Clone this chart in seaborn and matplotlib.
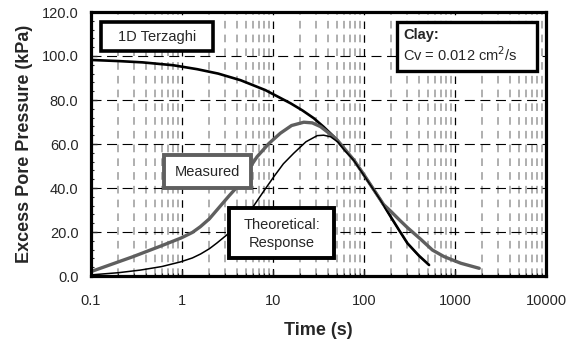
import matplotlib
matplotlib.use("Agg")
import matplotlib.pyplot as plt
import seaborn as sns
import pandas as pd
import numpy as np
from matplotlib.patches import Rectangle
from matplotlib.ticker import LogLocator, MultipleLocator, NullFormatter

# Data
t_terz = [0.1, 0.2, 0.37, 0.8, 1.47, 2.5, 4.4, 8.24, 15.6, 21, 28.1, 36, 46.7, 60, 77.4, 100, 128.5, 152, 196, 245, 300, 400, 519]
p_terz = [98.2, 97.7, 97.1, 95.8, 94.0, 92.0, 89.0, 84.5, 78.5, 75.3, 71.7, 67.8, 63.3, 57.8, 52.7, 45.8, 39.1, 34.5, 27.0, 20.6, 14.9, 9.3, 5.0]

t_theo = [0.1, 0.2, 0.35, 0.6, 0.96, 1.3, 1.6, 2.0, 2.42, 3.4, 4.5, 5.89, 7.8, 10.2, 13, 16.9, 23, 30.6, 36, 42.9, 52, 60, 77.4, 100, 128.5, 152, 196, 245, 300, 400, 519]
p_theo = [0.5, 1.5, 2.7, 4.3, 6.4, 8.2, 10.0, 12.4, 15.0, 20.0, 25.5, 30.8, 38.2, 45.1, 51.0, 55.8, 61.0, 63.8, 64.0, 63.3, 60.8, 57.6, 52.5, 45.7, 39.0, 34.4, 26.9, 20.5, 14.8, 9.2, 5.0]

t_meas = [0.1, 0.29, 0.6, 0.98, 1.3, 1.59, 2.0, 2.42, 3.3, 4.37, 5.4, 6.68, 9.0, 12.05, 16, 21.8, 27, 33.3, 41, 50.8, 62, 77.4, 100, 120, 164, 196, 245, 300, 420, 565, 759, 1159, 1846]
p_meas = [2.0, 8.8, 13.8, 17.3, 19.8, 22.4, 26.0, 30.0, 36.5, 42.1, 48.5, 54.2, 60.2, 64.9, 68.4, 69.9, 69.6, 67.9, 65.0, 61.8, 57.5, 52.7, 46.0, 41.0, 32.5, 29.5, 25.5, 22.0, 16.7, 11.8, 8.8, 5.8, 3.5]

x_ticks = [0.1, 1, 10, 100, 1000, 10000]
x_labels = ["0.1", "1", "10", "100", "1000", "10000"]
y_ticks = [0, 20, 40, 60, 80, 100, 120]

sns.set_style("white")
plt.rcParams['font.family'] = ['Liberation Sans', 'DejaVu Sans']

W, H = 572, 343
fig = plt.figure(figsize=(W / 100, H / 100), dpi=100)
ax = fig.add_axes([91 / W, 1 - 276 / H, (546 - 91) / W, (276 - 12) / H])

ax.set_xscale("log")
ax.set_xlim(0.1, 10000)
ax.set_ylim(0, 120)

ax.xaxis.set_minor_locator(LogLocator(base=10, subs=np.arange(2, 10), numticks=20))
ax.xaxis.set_minor_formatter(NullFormatter())
ax.grid(True, which="minor", axis="x", color="#9a9a9a", linestyle=(0, (5, 4)), linewidth=1.1)
ax.grid(True, which="major", axis="x", color="black", linestyle=(0, (6, 5)), linewidth=0.9)
ax.grid(True, which="major", axis="y", color="black", linestyle=(0, (9, 5)), linewidth=0.8)
ax.yaxis.set_minor_locator(MultipleLocator(4))

df_terz = pd.DataFrame({"t": t_terz, "p": p_terz})
df_theo = pd.DataFrame({"t": t_theo, "p": p_theo})
df_meas = pd.DataFrame({"t": t_meas, "p": p_meas})

sns.lineplot(data=df_terz, x="t", y="p", ax=ax, color="black", linewidth=1.9, sort=False, estimator=None)
sns.lineplot(data=df_meas, x="t", y="p", ax=ax, color="#5f5f5f", linewidth=2.4, sort=False, estimator=None)
sns.lineplot(data=df_theo, x="t", y="p", ax=ax, color="black", linewidth=1.1, sort=False, estimator=None)

ax.set_xticks(x_ticks)
ax.set_xticklabels(x_labels)
ax.set_yticks(y_ticks)
ax.set_yticklabels([f"{v:.1f}" for v in y_ticks])
ax.tick_params(axis="both", which="major", direction="in", length=4, width=1, labelsize=10.5)
ax.tick_params(axis="x", which="major", pad=13)
ax.tick_params(axis="y", which="major", pad=9)
ax.tick_params(axis="both", which="minor", direction="in", length=2.5, width=0.8)
ax.tick_params(axis="x", which="both", bottom=True)
ax.tick_params(axis="y", which="both", left=True)

for s in ax.spines.values():
    s.set_linewidth(2.3)
    s.set_color("black")

ax.set_xlabel("Time (s)", fontsize=13, fontweight="bold", labelpad=10)
ax.set_ylabel("Excess Pore Pressure (kPa)", fontsize=13, fontweight="bold", labelpad=6)

def box(x0, y0, x1, y1, color="black", lw=2.6):
    r = Rectangle((x0 / W, 1 - y1 / H), (x1 - x0) / W, (y1 - y0) / H,
                  transform=fig.transFigure, facecolor="white", edgecolor=color,
                  linewidth=lw, zorder=10)
    fig.patches.append(r)

def txt(x, y, s, **kw):
    fig.text(x / W, 1 - y / H, s, zorder=11, fontsize=10.5, **kw)

box(101, 22, 213, 51)
txt(157, 37, "1D Terzaghi", ha="center", va="center")

box(397, 22, 537, 71, lw=2.4)
txt(403, 35, "Clay:", ha="left", va="center", fontweight="bold")
txt(403, 55, "Cv = 0.012 cm$^2$/s", ha="left", va="center")

box(164, 155, 251, 188, color="#5f5f5f", lw=2.8)
txt(207.5, 171.5, "Measured", ha="center", va="center")

box(229, 208, 334, 258, lw=2.8)
txt(281.5, 225, "Theoretical:", ha="center", va="center")
txt(281.5, 243, "Response", ha="center", va="center")

fig.savefig("out.png", dpi=100)
